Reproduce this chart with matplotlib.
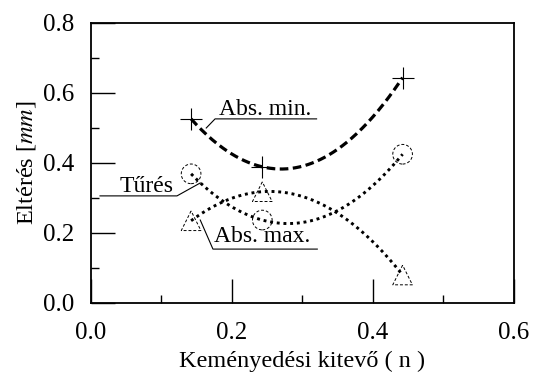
import numpy as np
import matplotlib
matplotlib.use("Agg")
import matplotlib.pyplot as plt
from matplotlib.ticker import MultipleLocator, FormatStrFormatter

plt.rcParams["font.family"] = ["Liberation Serif", "DejaVu Serif"]
plt.rcParams["mathtext.fontset"] = "stix"

# values
n_vals = [0.142, 0.243, 0.442]
abs_min = [0.526, 0.389, 0.644]
turees = [0.369, 0.237, 0.425]
abs_max = [0.235, 0.318, 0.080]

xlabel = "Keményedési kitevő ( n )"
ylabel = "Eltérés [$mm$]"


def fit_curve(x, y):
    # quadratic trend through the three measured points
    c = np.polyfit(x, y, 2)
    xs = np.linspace(min(x), max(x), 200)
    return xs, np.polyval(c, xs)


fig = plt.figure(figsize=(5.39, 3.72), dpi=100)
ax = fig.add_axes([0.1688, 0.1855, 0.7848, 0.7527])

xs, ys = fit_curve(n_vals, abs_min)
ax.plot(xs, ys, color="k", lw=2.3, ls=(0, (2.7, 1.4)), dash_capstyle="butt")
ax.scatter(n_vals, abs_min, marker="+", s=260, color="k", linewidths=0.8, zorder=3)

xs, ys = fit_curve(n_vals, turees)
ax.plot(xs, ys, color="k", lw=2.1, ls=(0, (1, 1.3)), dash_capstyle="butt")
ax.scatter(n_vals, turees, marker="o", s=200, facecolors="none", edgecolors="k",
           linewidths=0.7, linestyles=(0, (3, 2)), zorder=3)

xs, ys = fit_curve(n_vals, abs_max)
ax.plot(xs, ys, color="k", lw=2.1, ls=(0, (1, 1.3)), dash_capstyle="butt")
ax.scatter(n_vals, abs_max, marker="^", s=200, facecolors="none", edgecolors="k",
           linewidths=0.7, linestyles=(0, (3, 2)), zorder=3)

# callout labels with underline + leader
labels = [
    ("Abs. min.", 0.181, 0.537, [0.1635, 0.176, 0.320], [0.500, 0.526, 0.526]),
    ("Tűrés", 0.041, 0.317, [0.0128, 0.122, 0.155], [0.306, 0.306, 0.343]),
    ("Abs. max.", 0.175, 0.174, [0.155, 0.173, 0.321], [0.237, 0.154, 0.154]),
]
for txt, tx, ty, lx, ly in labels:
    ax.text(tx, ty, txt, fontsize=17, ha="left", va="baseline")
    ax.plot(lx, ly, color="k", lw=0.8)

ax.set_xlim(0, 0.6)
ax.set_ylim(0, 0.8)
ax.xaxis.set_major_locator(MultipleLocator(0.2))
ax.xaxis.set_minor_locator(MultipleLocator(0.1))
ax.yaxis.set_major_locator(MultipleLocator(0.2))
ax.yaxis.set_minor_locator(MultipleLocator(0.1))
ax.xaxis.set_major_formatter(FormatStrFormatter("%.1f"))
ax.yaxis.set_major_formatter(FormatStrFormatter("%.1f"))
ax.tick_params(which="major", direction="in", length=17, width=1.0, labelsize=18)
ax.tick_params(which="minor", direction="in", length=6, width=1.0)
ax.tick_params(axis="x", pad=14)
ax.tick_params(axis="y", pad=12)
for sp in ax.spines.values():
    sp.set_linewidth(1.3)

ax.set_xlabel(xlabel, fontsize=17.5, labelpad=4.5)
ax.set_ylabel(ylabel, fontsize=17.5, labelpad=4)

fig.savefig("out.png", dpi=100)
